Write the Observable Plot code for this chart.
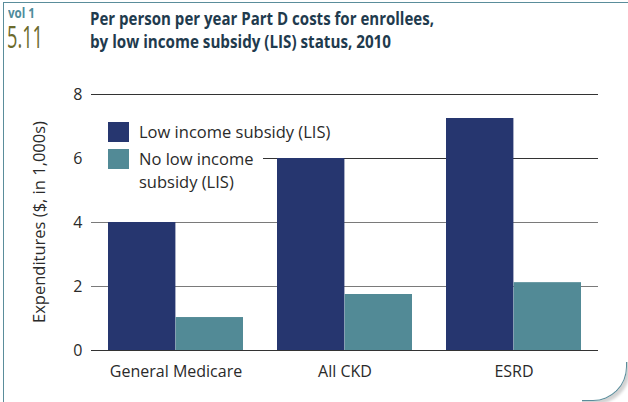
<!DOCTYPE html>
<html>
<head>
<meta charset="utf-8">
<script src="https://cdn.jsdelivr.net/npm/d3@7"></script>
<script src="https://cdn.jsdelivr.net/npm/@observablehq/plot@0.6"></script>
<style>
  html, body { margin: 0; padding: 0; background: #fff; }
  #wrap { position: relative; width: 628px; height: 402px; overflow: hidden; font-family: "Open Sans", "Noto Sans", sans-serif; }
  #frame { position: absolute; left: 3px; top: 2px; width: 640px; height: 420px; border-left: 1.5px solid #5a8d9b; border-top: 1.5px solid #5a8d9b; }
  #corner { position: absolute; left: 562px; top: 332px; width: 64px; height: 68px; border-right: 1.5px solid #5a8d9b; border-bottom: 1.5px solid #5a8d9b; border-bottom-right-radius: 34px; box-shadow: 3px 3px 3px rgba(0,0,0,0.18); clip-path: inset(30px -10px -10px 20px); }
  .fit { position: absolute; white-space: nowrap; transform-origin: 0 0; }
  #vol { left: 8px; top: 5px; font-weight: bold; font-size: 14px; line-height: 16px; color: #4f8c9c; }
  #num { left: 7px; top: 22px; font-size: 31px; line-height: 28px; color: #6b6a2c; }
  .tl { left: 90px; font-weight: bold; font-size: 18.5px; line-height: 22px; color: #1f3b4e; }
  #t1 { top: 7px; }
  #t2 { top: 30px; }
  #chart { position: absolute; left: 0; top: 0; }
  #legend { position: absolute; left: 91px; top: 108px; width: 172px; height: 86px; background: #fff; }
  .item { position: absolute; left: 17px; display: flex; font-size: 16.5px; line-height: 23px; color: #2a2a2a; white-space: nowrap; }
  .sw { width: 21px; height: 20px; margin-right: 10px; margin-top: 2px; flex: none; }
  #ylab { position: absolute; left: 38px; top: 222px; transform: translate(-50%, -50%) rotate(-90deg); white-space: nowrap; font-size: 16.5px; color: #2a2a2a; }
</style>
</head>
<body>
<div id="wrap">
  <div id="chart"></div>
  <div id="frame"></div>
  <div id="corner"></div>
  <div id="vol" class="fit">vol 1</div>
  <div id="num" class="fit">5.11</div>
  <div id="t1" class="fit tl">Per person per year Part D costs for enrollees,</div>
  <div id="t2" class="fit tl">by low income subsidy (LIS) status, 2010</div>
  <div id="legend"></div>
  <div id="ylab">Expenditures ($, in 1,000s)</div>
</div>
<script>
const categories = ["General Medicare", "All CKD", "ESRD"];
const seriesNames = ["Low income subsidy (LIS)", "No low income subsidy (LIS)"];
const lisValues = [4.0, 6.0, 7.25];
const noLisValues = [1.03, 1.75, 2.12];
const yTicks = [0, 2, 4, 6, 8];
const colors = ["#26366f", "#528a96"];

const rows = [];
categories.forEach((c, i) => {
  rows.push({category: c, series: seriesNames[0], value: lisValues[i]});
  rows.push({category: c, series: seriesNames[1], value: noLisValues[i]});
});

const W = 628, H = 402, mL = 91, mR = 30, mT = 94, mB = 52;
const pInner = 0.2, pOuter = 0.1;
const step = (W - mL - mR) / (categories.length - pInner + 2 * pOuter);
const half = step * (1 - pInner) / 2;

const plot = Plot.plot({
  width: W, height: H,
  marginLeft: mL, marginRight: mR, marginTop: mT, marginBottom: mB,
  style: {fontFamily: "'Open Sans', 'Noto Sans', sans-serif", fontSize: "16px", color: "#2a2a2a", background: "transparent"},
  x: {domain: categories, paddingInner: pInner, paddingOuter: pOuter, label: null, tickSize: 0, tickPadding: 15},
  y: {domain: [0, 8], ticks: yTicks, label: null, tickSize: 0, tickPadding: 9},
  color: {domain: seriesNames, range: colors},
  marks: [
    Plot.ruleY(yTicks.filter(t => t === 4 || t === 2), {stroke: "#7a7a7a", strokeWidth: 1.2, strokeOpacity: 1}),
    Plot.ruleY(yTicks.filter(t => !(t === 4 || t === 2)), {stroke: "#333", strokeWidth: 1, strokeOpacity: 1}),
    Plot.barY(rows.filter(d => d.series === seriesNames[0]), {x: "category", y: "value", fill: "series", insetLeft: 0, insetRight: half}),
    Plot.barY(rows.filter(d => d.series === seriesNames[1]), {x: "category", y: "value", fill: "series", insetLeft: half, insetRight: 0}),
    Plot.ruleY([0], {stroke: "#333", strokeWidth: 1.2})
  ]
});
plot.querySelectorAll("text").forEach(t => t.setAttribute("fill", "#2a2a2a"));
document.getElementById("chart").appendChild(plot);

const legend = document.getElementById("legend");
const legendLines = [["Low income subsidy (LIS)"], ["No low income", "subsidy (LIS)"]];
const legendTops = [12, 39];
seriesNames.forEach((s, i) => {
  const item = document.createElement("div");
  item.className = "item";
  item.style.top = legendTops[i] + "px";
  const sw = document.createElement("div");
  sw.className = "sw";
  sw.style.background = colors[i];
  const label = document.createElement("div");
  label.innerHTML = legendLines[i].join("<br>");
  item.appendChild(sw);
  item.appendChild(label);
  legend.appendChild(item);
});

// condensed look: squeeze header texts horizontally to the reference widths
function fit(id, target) {
  const el = document.getElementById(id);
  const w = el.getBoundingClientRect().width;
  el.style.transform = `scaleX(${target / w})`;
}
fit("vol", 27);
fit("num", 36);
fit("t1", 344);
fit("t2", 301);
</script>
</body>
</html>
